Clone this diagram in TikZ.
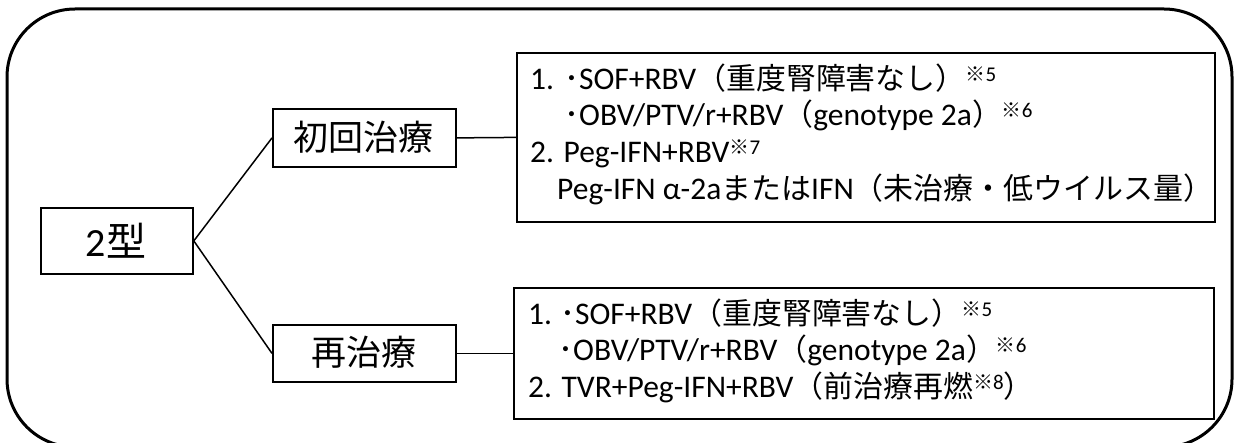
\documentclass[tikz,border=0pt]{standalone}
\usepackage{fontspec}
\setmainfont{Carlito}
\newfontfamily\cjk{Noto Sans CJK JP}
\newfontfamily\cjks[Scale=0.95]{Noto Sans CJK JP}
\newcommand\J[1]{{\cjks #1}}
\newcommand\kome[1]{\raisebox{8pt}{\fontsize{21}{21}\selectfont\J{※}#1}}
\newcommand\mdot{\J{･}}
\begin{document}
\begin{tikzpicture}[x=1pt,y=-1pt,
  box/.style={draw,line width=1.8pt,inner sep=0pt,anchor=north west},
  lbl/.style={inner sep=0pt},
  txt/.style={inner sep=0pt,anchor=base west,font=\fontsize{31.5}{36}\selectfont},
  conn/.style={line width=1.5pt}]
\useasboundingbox (0,0) rectangle (1234,443);
\begin{scope}
\clip (0,0) rectangle (1234,443);
\draw[line width=3pt,rounded corners=68pt] (7,9) rectangle (1232,447);
\end{scope}
% left boxes
\node[box,minimum width=152pt,minimum height=66pt] (t2) at (40,207) {};
\node[lbl,font=\fontsize{40}{40}\selectfont] (t2txt) at (116,241) {2{\cjk 型}};
\node[box,minimum width=183pt,minimum height=58pt] (sho) at (272,108) {};
\node[lbl,font=\cjk\fontsize{35}{35}\selectfont] (shotxt) at (363.5,137) {初回治療};
\node[box,minimum width=183pt,minimum height=57pt] (sai) at (272,324) {};
\node[lbl,font=\cjk\fontsize{35}{35}\selectfont] (saitxt) at (363.5,352.5) {再治療};
% right boxes
\node[box,minimum width=698pt,minimum height=169pt] (b1) at (516,52) {};
\node[box,minimum width=700pt,minimum height=131pt] (b2) at (513,287) {};
% connectors
\draw[conn] (t2.east) -- (sho.west);
\draw[conn] (t2.east) -- (sai.west);
\draw[conn] (sho.east) -- (b1.west);
\draw[conn] (sai.east) -- (b2.west);
% box 1 text
\node[txt] (a1) at (530,90) {1.\hspace{10pt}\mdot SOF+RBV\J{（重度腎障害なし）}\kome{5}};
\node[txt] (a2) at (564,126) {\mdot OBV/PTV/r+RBV\J{（}genotype 2a\J{）}\kome{6}};
\node[txt] (a3) at (530,163) {2. Peg-IFN+RBV\kome{7}};
\node[txt] (a4) at (557,200) {Peg-IFN α-2a\J{または}IFN\J{（未治療・低ウイルス量）}};
% box 2 text
\node[txt] (c1) at (528,325) {1.\hspace{8pt}\mdot SOF+RBV\J{（重度腎障害なし）}\kome{5}};
\node[txt] (c2) at (558,361) {\mdot OBV/PTV/r+RBV\J{（}genotype 2a\J{）}\kome{6}};
\node[txt] (c3) at (528,397) {2. TVR+Peg-IFN+RBV\J{（前治療再燃}\kome{8}\J{）}};
\end{tikzpicture}
\end{document}
